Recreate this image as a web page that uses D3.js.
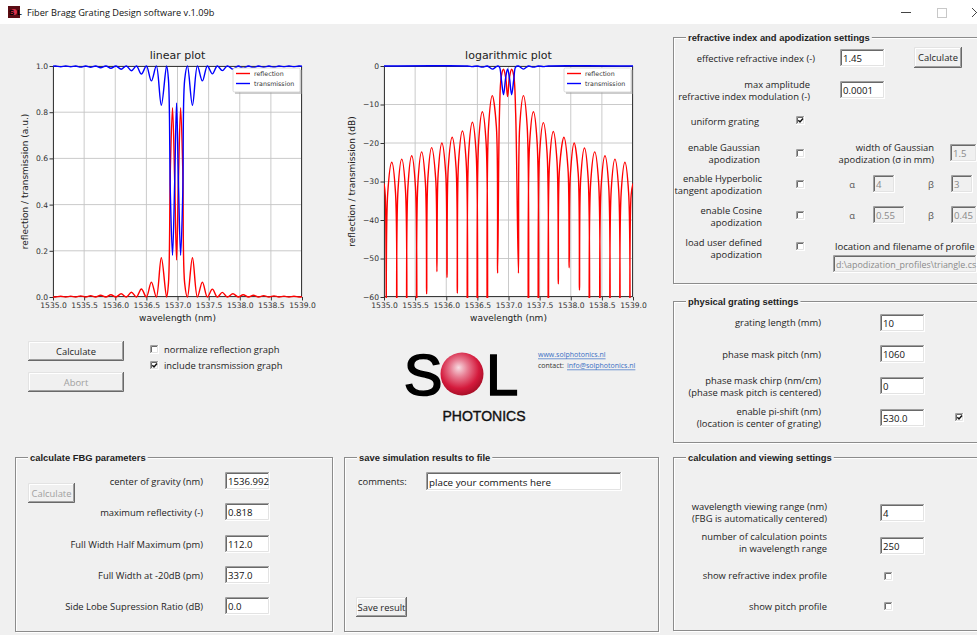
<!DOCTYPE html>
<html>
<head>
<meta charset="utf-8">
<script src="https://cdn.jsdelivr.net/npm/d3@7"></script>
<style>
  body { margin: 0; background: #f0f0f0; overflow: hidden; }
</style>
</head>
<body>
<svg id="main" width="977" height="635"></svg>
<script>
// ---- chart data ----
const wavelengthTicks = [1535.0, 1535.5, 1536.0, 1536.5, 1537.0, 1537.5, 1538.0, 1538.5, 1539.0];
const linearTicks = [0.0, 0.2, 0.4, 0.6, 0.8, 1.0];
const dbTicks = [0, -10, -20, -30, -40, -50, -60];
const seriesNames = ["reflection", "transmission"];
const seriesColors = ["#ff0000", "#0000ff"];

// [wavelength nm, reflection a.u.]
const reflectionLinear = [
  [1535.000, 0.0009], [1535.040, 0], [1535.125, 0.0032], [1535.205, 0], [1535.285, 0.0038], [1535.365, 0],
  [1535.445, 0.0047], [1535.525, 0], [1535.605, 0.0059], [1535.685, 0], [1535.765, 0.0076], [1535.850, 0],
  [1535.930, 0.0100], [1536.012, 0], [1536.095, 0.0141], [1536.178, 0], [1536.260, 0.0204], [1536.340, 0],
  [1536.420, 0.0347], [1536.500, 0], [1536.580, 0.0646], [1536.660, 0], [1536.740, 0.1698], [1536.825, 0],
  [1536.855, 0.06], [1536.885, 0.55], [1536.920, 0.82], [1536.955, 0.50], [1536.985, 0.16], [1537.015, 0.50],
  [1537.050, 0.82], [1537.085, 0.55], [1537.115, 0.06], [1537.160, 0],
  [1537.240, 0.1698], [1537.320, 0], [1537.400, 0.0646], [1537.480, 0], [1537.560, 0.0339], [1537.640, 0],
  [1537.720, 0.0200], [1537.800, 0], [1537.890, 0.0141], [1537.975, 0], [1538.055, 0.0100], [1538.140, 0],
  [1538.220, 0.0074], [1538.300, 0], [1538.385, 0.0059], [1538.468, 0], [1538.550, 0.0047], [1538.630, 0],
  [1538.710, 0.0038], [1538.790, 0], [1538.870, 0.0032], [1538.950, 0], [1539.000, 0.0009]
];

// [wavelength nm, transmission a.u.]
const transmissionLinear = [
  [1535.000, 0.9991], [1535.040, 1], [1535.125, 0.9968], [1535.205, 1], [1535.285, 0.9962], [1535.365, 1],
  [1535.445, 0.9953], [1535.525, 1], [1535.605, 0.9941], [1535.685, 1], [1535.765, 0.9924], [1535.850, 1],
  [1535.930, 0.9900], [1536.012, 1], [1536.095, 0.9859], [1536.178, 1], [1536.260, 0.9796], [1536.340, 1],
  [1536.420, 0.9653], [1536.500, 1], [1536.580, 0.9354], [1536.660, 1], [1536.740, 0.8302], [1536.825, 1],
  [1536.855, 0.94], [1536.885, 0.45], [1536.920, 0.18], [1536.955, 0.50], [1536.985, 0.84], [1537.015, 0.50],
  [1537.050, 0.18], [1537.085, 0.45], [1537.115, 0.94], [1537.160, 1],
  [1537.240, 0.8302], [1537.320, 1], [1537.400, 0.9354], [1537.480, 1], [1537.560, 0.9661], [1537.640, 1],
  [1537.720, 0.9800], [1537.800, 1], [1537.890, 0.9859], [1537.975, 1], [1538.055, 0.9900], [1538.140, 1],
  [1538.220, 0.9926], [1538.300, 1], [1538.385, 0.9941], [1538.468, 1], [1538.550, 0.9953], [1538.630, 1],
  [1538.710, 0.9962], [1538.790, 1], [1538.870, 0.9968], [1538.950, 1], [1539.000, 0.9991]
];

// [wavelength nm, reflection dB]  (-90 = null below the axis)
const reflectionDb = [
  [1535.000, -30.5], [1535.020, -33.5], [1535.040, -90],
  [1535.060, -33.0], [1535.125, -25.0], [1535.185, -33.0], [1535.205, -90],
  [1535.225, -32.2], [1535.285, -24.2], [1535.345, -32.2], [1535.365, -90],
  [1535.385, -31.3], [1535.445, -23.3], [1535.505, -31.3], [1535.525, -90],
  [1535.545, -30.3], [1535.605, -22.3], [1535.665, -30.3], [1535.685, -59.2],
  [1535.705, -29.2], [1535.765, -21.2], [1535.830, -29.2], [1535.850, -53.4],
  [1535.870, -28.0], [1535.930, -20.0], [1535.992, -28.0], [1536.012, -54.9],
  [1536.032, -26.5], [1536.095, -18.5], [1536.158, -26.5], [1536.178, -59.0],
  [1536.198, -24.9], [1536.260, -16.9], [1536.320, -24.9], [1536.340, -90],
  [1536.360, -22.6], [1536.420, -14.6], [1536.480, -22.6], [1536.500, -90],
  [1536.520, -19.9], [1536.580, -11.9], [1536.640, -19.9], [1536.660, -90],
  [1536.680, -15.7], [1536.740, -7.7], [1536.805, -15.7], [1536.825, -53.8],
  [1536.855, -12.2], [1536.885, -2.6], [1536.920, -0.86], [1536.955, -3.0], [1536.985, -7.96],
  [1537.015, -3.0], [1537.050, -0.86], [1537.085, -2.6], [1537.115, -12.2], [1537.160, -53.8],
  [1537.180, -15.7], [1537.240, -7.7], [1537.300, -15.7], [1537.320, -90],
  [1537.340, -19.9], [1537.400, -11.9], [1537.460, -19.9], [1537.480, -90],
  [1537.500, -22.7], [1537.560, -14.7], [1537.620, -22.7], [1537.640, -90],
  [1537.660, -25.0], [1537.720, -17.0], [1537.780, -25.0], [1537.800, -56.6],
  [1537.820, -26.5], [1537.890, -18.5], [1537.955, -26.5], [1537.975, -52.4],
  [1537.995, -28.0], [1538.055, -20.0], [1538.120, -28.0], [1538.140, -58.2],
  [1538.160, -29.3], [1538.220, -21.3], [1538.280, -29.3], [1538.300, -90],
  [1538.320, -30.3], [1538.385, -22.3], [1538.448, -30.3], [1538.468, -90],
  [1538.488, -31.3], [1538.550, -23.3], [1538.610, -31.3], [1538.630, -90],
  [1538.650, -32.2], [1538.710, -24.2], [1538.770, -32.2], [1538.790, -90],
  [1538.810, -33.0], [1538.870, -25.0], [1538.930, -33.0], [1538.950, -90],
  [1538.970, -33.5], [1539.000, -30.5]
];

// [wavelength nm, transmission dB]
const transmissionDb = [
  [1535.000, 0], [1536.340, 0], [1536.420, -0.15], [1536.500, 0], [1536.580, -0.29], [1536.660, 0],
  [1536.740, -0.81], [1536.825, 0], [1536.855, -0.27], [1536.885, -3.47], [1536.920, -7.45],
  [1536.955, -3.01], [1536.985, -0.76], [1537.015, -3.01], [1537.050, -7.45], [1537.085, -3.47],
  [1537.115, -0.27], [1537.160, 0], [1537.240, -0.81], [1537.320, 0], [1537.400, -0.29], [1537.480, 0],
  [1537.560, -0.15], [1537.640, 0], [1539.000, 0]
];

const FONT = '"Open Sans", "Noto Sans", sans-serif';
const ARIAL = '"Liberation Sans", Arial, sans-serif';
const MPL = '"DejaVu Sans", sans-serif';

const svg = d3.select("#main");

function txt(x, y, s, o) {
  o = o || {};
  return svg.append("text")
    .attr("x", x).attr("y", y)
    .attr("dominant-baseline", "central")
    .attr("text-anchor", o.anchor || "start")
    .style("font-family", o.font || FONT)
    .style("font-size", (o.size || 9.4) + "px")
    .style("font-weight", o.weight || "normal")
    .attr("fill", o.fill || "#1e1e1e")
    .text(s);
}

/*
  3D borders like the classic windows widgets
*/
function bevel(x, y, w, h, tl1, tl2, br1, br2) {
  const g = svg.append("g").attr("fill", "none").attr("stroke-width", 1);
  g.append("path").attr("d", `M${x + .5},${y + h} V${y + .5} H${x + w}`).attr("stroke", tl1);
  g.append("path").attr("d", `M${x + 1.5},${y + h - 1} V${y + 1.5} H${x + w - 1}`).attr("stroke", tl2);
  g.append("path").attr("d", `M${x},${y + h - .5} H${x + w - .5} V${y}`).attr("stroke", br1);
  g.append("path").attr("d", `M${x + 1},${y + h - 1.5} H${x + w - 1.5} V${y + 1}`).attr("stroke", br2);
}

function entry(x, y, w, h, s, disabled, size) {
  svg.append("rect").attr("x", x).attr("y", y).attr("width", w).attr("height", h)
    .attr("fill", disabled ? "#f0f0f0" : "#ffffff");
  bevel(x, y, w, h, "#a0a0a0", "#696969", "#ffffff", "#e3e3e3");
  txt(x + 3, y + h / 2 + .5, s, {size: size || 9.6, fill: disabled ? "#8a8a8a" : "#111"});
}

function button(x, y, w, h, s, disabled) {
  svg.append("rect").attr("x", x).attr("y", y).attr("width", w).attr("height", h).attr("fill", "#f0f0f0");
  bevel(x, y, w, h, "#e3e3e3", "#ffffff", "#696969", "#a0a0a0");
  txt(x + w / 2, y + h / 2, s, {anchor: "middle", fill: disabled ? "#a0a0a0" : "#1e1e1e"});
}

function checkbox(x, y, checked) {
  svg.append("rect").attr("x", x).attr("y", y).attr("width", 9).attr("height", 9).attr("fill", "#fff");
  bevel(x, y, 9, 9, "#a0a0a0", "#696969", "#ffffff", "#e3e3e3");
  if (checked) {
    svg.append("path").attr("d", `M${x + 2.3},${y + 4.2} L${x + 4},${y + 6} L${x + 7},${y + 2.6}`)
      .attr("fill", "none").attr("stroke", "#111").attr("stroke-width", 1.5);
  }
}

function group(x, y, w, h, title) {
  svg.append("rect").attr("x", x + 1.5).attr("y", y + 1.5).attr("width", w).attr("height", h)
    .attr("fill", "none").attr("stroke", "#ffffff");
  svg.append("rect").attr("x", x + .5).attr("y", y + .5).attr("width", w).attr("height", h)
    .attr("fill", "none").attr("stroke", "#8c8c8c");
  const t = txt(x + 15, y, title, {font: ARIAL, size: 9.4, weight: "bold", fill: "#222"});
  const bb = t.node().getBBox();
  svg.insert("rect", () => t.node())
    .attr("x", bb.x - 2).attr("y", y - 3).attr("width", bb.width + 4).attr("height", 6)
    .attr("fill", "#f0f0f0");
}

// right aligned (multi line) labels
function label(x, ys, lines, anchor) {
  lines.forEach((l, i) => txt(x, ys[i], l, {anchor: anchor || "end"}));
}

/*
  =============Drawing the plots=============
*/
function drawPlot(p) {
  const x = d3.scaleLinear().domain([1535, 1539]).range([p.left, p.right]);
  const y = d3.scaleLinear().domain(p.yDomain).range([p.bottom, p.top]);
  const g = svg.append("g");

  g.append("rect").attr("x", p.left).attr("y", p.top)
    .attr("width", p.right - p.left).attr("height", p.bottom - p.top).attr("fill", "#fff");

  // grid
  g.selectAll(".vgrid").data(wavelengthTicks).join("line").attr("class", "vgrid")
    .attr("x1", d => x(d)).attr("x2", d => x(d)).attr("y1", p.top).attr("y2", p.bottom)
    .attr("stroke", "#c4c4c4").attr("stroke-width", 0.9);
  g.selectAll(".hgrid").data(p.yTicks).join("line").attr("class", "hgrid")
    .attr("y1", d => y(d)).attr("y2", d => y(d)).attr("x1", p.left).attr("x2", p.right)
    .attr("stroke", "#c4c4c4").attr("stroke-width", 0.9);

  // axes
  const ax = g.append("g").attr("transform", `translate(0,${p.bottom})`)
    .call(d3.axisBottom(x).tickValues(wavelengthTicks).tickFormat(d3.format(".1f"))
      .tickSize(3.5).tickSizeOuter(0).tickPadding(2.5));
  const ay = g.append("g").attr("transform", `translate(${p.left},0)`)
    .call(d3.axisLeft(y).tickValues(p.yTicks).tickFormat(p.yFormat)
      .tickSize(3.5).tickSizeOuter(0).tickPadding(1.5));
  [ax, ay].forEach(a => {
    a.select(".domain").remove();
    a.selectAll("line").attr("stroke", "#333");
    a.selectAll("text").style("font-family", MPL).style("font-size", "7.6px").attr("fill", "#333");
  });

  // curves
  const clipId = "clip-" + p.id;
  svg.append("clipPath").attr("id", clipId).append("rect")
    .attr("x", p.left).attr("y", p.top - 1).attr("width", p.right - p.left).attr("height", p.bottom - p.top + 2);
  const line = d3.line().x(d => x(d[0])).y(d => y(d[1])).curve(d3.curveCatmullRom.alpha(0.5));

  g.append("rect").attr("x", p.left + .5).attr("y", p.top + .5)
    .attr("width", p.right - p.left - 1).attr("height", p.bottom - p.top - 1)
    .attr("fill", "none").attr("stroke", "#3a3a3a").attr("stroke-width", 1);

  const lines = g.append("g").attr("clip-path", `url(#${clipId})`);
  [p.refl, p.trans].forEach((d, i) => {
    lines.append("path").datum(d).attr("d", line)
      .attr("fill", "none").attr("stroke", seriesColors[i]).attr("stroke-width", 1.4)
      .attr("stroke-linejoin", "round");
  });

  // texts
  txt((p.left + p.right) / 2, 55, p.title, {anchor: "middle", font: MPL, size: 11, fill: "#222"});
  txt((p.left + p.right) / 2, 318, "wavelength (nm)", {anchor: "middle", font: MPL, size: 9, fill: "#222"});
  txt(0, 0, p.ylabel, {anchor: "middle", font: MPL, size: 9, fill: "#222"})
    .attr("transform", `translate(${p.ylabelX},${(p.top + p.bottom) / 2}) rotate(-90)`);

  // legend
  const lx = p.right - 69, ly = 68;
  g.append("rect").attr("x", lx + 2).attr("y", ly + 2).attr("width", 67).attr("height", 24)
    .attr("fill", "#9a9a9a").attr("opacity", 0.5);
  g.append("rect").attr("x", lx).attr("y", ly).attr("width", 67).attr("height", 24).attr("rx", 1.5)
    .attr("fill", "#fff").attr("stroke", "#d0d0d0").attr("stroke-width", 0.8);
  seriesNames.forEach((n, i) => {
    const yy = ly + 5.5 + i * 10;
    g.append("line").attr("x1", lx + 3).attr("x2", lx + 17).attr("y1", yy).attr("y2", yy)
      .attr("stroke", seriesColors[i]).attr("stroke-width", 1.4);
    txt(lx + 21, yy, n, {font: MPL, size: 6.3, fill: "#333"});
  });
}

// title bar
svg.append("rect").attr("width", 977).attr("height", 24).attr("fill", "#fff");
svg.append("rect").attr("x", 8).attr("y", 6).attr("width", 12).attr("height", 12).attr("fill", "#5a0c14");
svg.append("circle").attr("cx", 14).attr("cy", 12).attr("r", 3).attr("fill", "#e0304a");
txt(9, 12, "S", {font: ARIAL, size: 8, weight: "bold", fill: "#000"});
txt(17, 12, "L", {font: ARIAL, size: 8, weight: "bold", fill: "#000"});
txt(27, 12.5, "Fiber Bragg Grating Design software v.1.09b", {size: 9.2, fill: "#111"});
svg.append("line").attr("x1", 901).attr("x2", 911).attr("y1", 12.5).attr("y2", 12.5).attr("stroke", "#444");
svg.append("rect").attr("x", 937.5).attr("y", 8.5).attr("width", 9).attr("height", 9)
  .attr("fill", "none").attr("stroke", "#c8c8c8");
svg.append("path").attr("d", "M972,8 L981,17 M981,8 L972,17").attr("stroke", "#444").attr("fill", "none");

drawPlot({
  id: "lin", left: 53, right: 302, top: 66, bottom: 297,
  yDomain: [0, 1], yTicks: linearTicks, yFormat: d3.format(".1f"),
  title: "linear plot", ylabel: "reflection / transmission (a.u.)", ylabelX: 25,
  refl: reflectionLinear, trans: transmissionLinear
});
drawPlot({
  id: "log", left: 384, right: 633, top: 66, bottom: 297,
  yDomain: [-60, 0], yTicks: dbTicks, yFormat: d => d === 0 ? "0" : "\u2212" + Math.abs(d),
  title: "logarithmic plot", ylabel: "reflection / transmission (dB)", ylabelX: 352,
  refl: reflectionDb, trans: transmissionDb
});

// controls under the plots
button(28, 341, 96, 20, "Calculate", false);
button(28, 372, 96, 20, "Abort", true);
checkbox(150, 345, false);
txt(164, 349.5, "normalize reflection graph");
checkbox(150, 361, true);
txt(164, 365.5, "include transmission graph");

// logo
const grad = svg.append("defs").append("radialGradient").attr("id", "ball")
  .attr("cx", "45%").attr("cy", "40%").attr("r", "60%").attr("fx", "42%").attr("fy", "35%");
grad.append("stop").attr("offset", "0%").attr("stop-color", "#f7dce2");
grad.append("stop").attr("offset", "35%").attr("stop-color", "#e77a90");
grad.append("stop").attr("offset", "75%").attr("stop-color", "#d41a3c");
grad.append("stop").attr("offset", "100%").attr("stop-color", "#a90f28");
txt(423, 374, "S", {anchor: "middle", font: ARIAL, size: 58, fill: "#000"})
  .attr("stroke", "#000").attr("stroke-width", 1.6);
svg.append("circle").attr("cx", 462).attr("cy", 374).attr("r", 21.5).attr("fill", "url(#ball)");
txt(486, 374, "L", {font: ARIAL, size: 58, fill: "#000"}).attr("stroke", "#000").attr("stroke-width", 1.6);
txt(484, 416, "PHOTONICS", {anchor: "middle", font: ARIAL, size: 14, fill: "#111"})
  .attr("stroke", "#111").attr("stroke-width", 0.4);
txt(538, 354, "www.solphotonics.nl", {size: 7, fill: "#3a6fc4"}).style("text-decoration", "underline");
txt(538, 365, "contact: ", {size: 7, fill: "#333"});
txt(567, 365, "info@solphotonics.nl", {size: 7, fill: "#3a6fc4"}).style("text-decoration", "underline");

// calculate FBG parameters
group(15, 457, 317, 174, "calculate FBG parameters");
button(28, 483, 47, 20, "Calculate", true);
label(203, [481], ["center of gravity (nm)"]);
entry(225, 472, 45, 18, "1536.992");
label(203, [512], ["maximum reflectivity (-)"]);
entry(225, 503, 45, 18, "0.818");
label(203, [544], ["Full Width Half Maximum (pm)"]);
entry(225, 535, 45, 18, "112.0");
label(203, [575], ["Full Width at -20dB (pm)"]);
entry(225, 566, 45, 18, "337.0");
label(203, [606], ["Side Lobe Supression Ratio (dB)"]);
entry(225, 597, 45, 18, "0.0");

// save simulation results
group(344, 457, 314, 174, "save simulation results to file");
txt(358, 481, "comments:");
entry(426, 472, 196, 19, "place your comments here", false, 9.8);
button(356, 597, 51, 20, "Save result", false);

// refractive index and apodization settings
group(673, 37, 320, 246, "refractive index and apodization settings");
label(815, [58], ["effective refractive index (-)"]);
entry(840, 49, 45, 18, "1.45");
button(914, 47, 48, 21, "Calculate", false);
label(810, [84, 96], ["max amplitude", "refractive index modulation (-)"]);
entry(840, 81, 45, 18, "0.0001");
label(759, [121], ["uniform grating"]);
checkbox(796, 116, true);
label(760, [147, 159], ["enable Gaussian", "apodization"]);
checkbox(796, 149, false);
label(934, [147, 159], ["width of Gaussian", "apodization (\u03c3 in mm)"]);
entry(950, 144, 27, 18, "1.5", true);
label(762, [178, 190], ["enable Hyperbolic", "tangent apodization"]);
checkbox(796, 180, false);
txt(852, 184, "\u03b1", {anchor: "middle", fill: "#555"});
entry(873, 175, 22, 18, "4", true);
txt(931, 184, "\u03b2", {anchor: "middle", fill: "#555"});
entry(951, 175, 22, 18, "3", true);
label(762, [210, 222], ["enable Cosine", "apodization"]);
checkbox(796, 211, false);
txt(852, 215, "\u03b1", {anchor: "middle", fill: "#555"});
entry(873, 206, 32, 18, "0.55", true);
txt(931, 215, "\u03b2", {anchor: "middle", fill: "#555"});
entry(951, 206, 26, 18, "0.45", true);
label(762, [242, 254], ["load user defined", "apodization"]);
checkbox(796, 242, false);
txt(835, 246, "location and filename of profile", {size: 9.6});
entry(833, 255, 144, 18, "d:\\apodization_profiles\\triangle.cs", true, 8.9);

// physical grating settings
group(673, 301, 320, 141, "physical grating settings");
label(821, [322], ["grating length (mm)"]);
entry(880, 314, 45, 18, "10");
label(821, [354], ["phase mask pitch (nm)"]);
entry(880, 345, 45, 18, "1060");
label(821, [380, 392], ["phase mask chirp (nm/cm)", "(phase mask pitch is centered)"]);
entry(880, 377, 45, 18, "0");
label(821, [411, 423], ["enable pi-shift (nm)", "(location is center of grating)"]);
entry(880, 409, 45, 18, "530.0");
checkbox(955, 413, true);

// calculation and viewing settings
group(673, 457, 320, 173, "calculation and viewing settings");
label(827, [506, 518], ["wavelength viewing range (nm)", "(FBG is automatically centered)"]);
entry(880, 504, 45, 18, "4");
label(827, [536, 548], ["number of calculation points", "in wavelength range"]);
entry(880, 537, 45, 18, "250");
label(827, [575], ["show refractive index profile"]);
checkbox(884, 572, false);
label(827, [606], ["show pitch profile"]);
checkbox(884, 602, false);
</script>
</body>
</html>
